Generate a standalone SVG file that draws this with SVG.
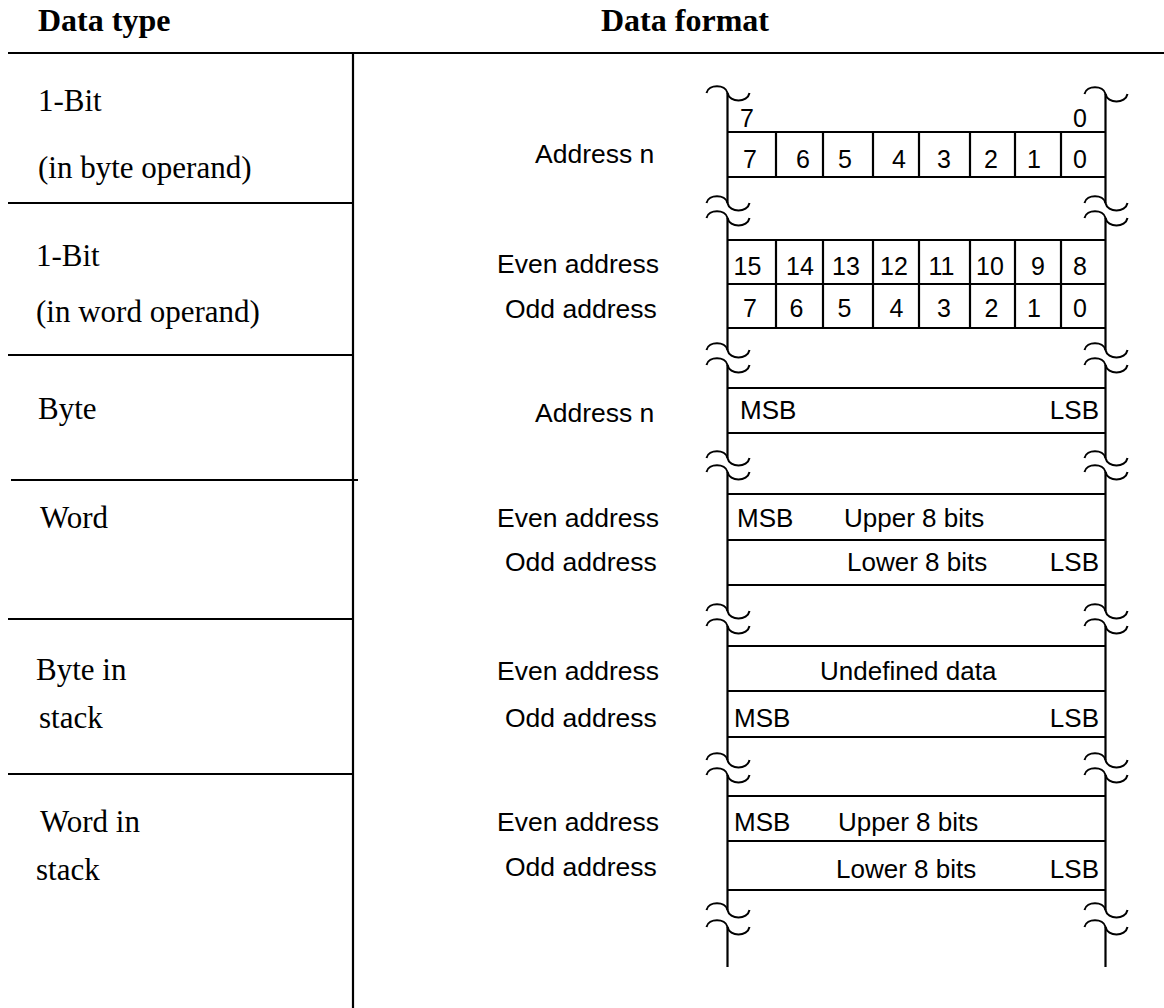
<svg xmlns="http://www.w3.org/2000/svg" xmlns:xlink="http://www.w3.org/1999/xlink" width="1164" height="1008" viewBox="0 0 1164 1008">
  <style>
    .rule { stroke: #000; stroke-width: 2.2; fill: none; }
    .cell { stroke: #000; stroke-width: 2.2; fill: none; }
    .brk { stroke: #000; stroke-width: 2; fill: none; }
    .hdr { font-family: "Liberation Serif", "Times New Roman", serif; font-weight: bold; font-size: 32px; fill: #000; }
    .typ { font-family: "Liberation Serif", "Times New Roman", serif; font-size: 31px; fill: #000; }
    .adr { font-family: "Liberation Sans", Arial, sans-serif; font-size: 26.5px; fill: #000; }
    .lbl { font-family: "Liberation Sans", Arial, sans-serif; font-size: 26px; fill: #000; }
    .dig { font-family: "Liberation Sans", Arial, sans-serif; font-size: 25px; fill: #000; text-anchor: middle; }
    .end { text-anchor: end; }
  </style>
  <defs>
    <!-- wavy break symbol, centred where it crosses the memory column edge -->
    <path id="tilde" d="M-21,0 C-19,-9 -2,-9 0,0 C2,10 20,10 22,0"/>
  </defs>

  <rect width="1164" height="1008" fill="#fff"/>

  <!-- table headings -->
  <g id="header">
    <text class="hdr" x="38" y="31">Data type</text>
    <text class="hdr" x="601" y="31">Data format</text>
  </g>

  <!-- table rules and memory column edges -->
  <g id="connectors">
    <line class="rule" x1="8" y1="53" x2="1164" y2="53"/>
    <line class="rule" x1="353" y1="53" x2="353" y2="1008"/>
    <line class="rule" x1="8" y1="203" x2="353" y2="203"/>
    <line class="rule" x1="8" y1="355" x2="353" y2="355"/>
    <line class="rule" x1="11" y1="480" x2="358" y2="480"/>
    <line class="rule" x1="8" y1="619" x2="353" y2="619"/>
    <line class="rule" x1="8" y1="774" x2="353" y2="774"/>

    <!-- left edge of memory column -->
    <path class="cell" d="M727.5,93 V203 M727.5,218 V350 M727.5,365 V458 M727.5,472 V611 M727.5,626 V760 M727.5,775 V910 M727.5,927 V967"/>
    <!-- right edge of memory column -->
    <path class="cell" d="M1105.5,94 V203 M1105.5,218 V350 M1105.5,365 V458 M1105.5,472 V611 M1105.5,626 V760 M1105.5,775 V910 M1105.5,927 V967"/>

    <!-- break marks -->
    <g class="brk">
      <use xlink:href="#tilde" x="727.5" y="93"/>
      <use xlink:href="#tilde" x="1105.5" y="94"/>

      <use xlink:href="#tilde" x="727.5" y="203"/>
      <use xlink:href="#tilde" x="727.5" y="218"/>
      <use xlink:href="#tilde" x="1105.5" y="203"/>
      <use xlink:href="#tilde" x="1105.5" y="218"/>

      <use xlink:href="#tilde" x="727.5" y="350"/>
      <use xlink:href="#tilde" x="727.5" y="365"/>
      <use xlink:href="#tilde" x="1105.5" y="350"/>
      <use xlink:href="#tilde" x="1105.5" y="365"/>

      <use xlink:href="#tilde" x="727.5" y="458"/>
      <use xlink:href="#tilde" x="727.5" y="472"/>
      <use xlink:href="#tilde" x="1105.5" y="458"/>
      <use xlink:href="#tilde" x="1105.5" y="472"/>

      <use xlink:href="#tilde" x="727.5" y="611"/>
      <use xlink:href="#tilde" x="727.5" y="626"/>
      <use xlink:href="#tilde" x="1105.5" y="611"/>
      <use xlink:href="#tilde" x="1105.5" y="626"/>

      <use xlink:href="#tilde" x="727.5" y="760"/>
      <use xlink:href="#tilde" x="727.5" y="775"/>
      <use xlink:href="#tilde" x="1105.5" y="760"/>
      <use xlink:href="#tilde" x="1105.5" y="775"/>

      <use xlink:href="#tilde" x="727.5" y="910"/>
      <use xlink:href="#tilde" x="727.5" y="927"/>
      <use xlink:href="#tilde" x="1105.5" y="910"/>
      <use xlink:href="#tilde" x="1105.5" y="927"/>
    </g>
  </g>

  <!-- 1-bit in byte operand -->
  <g id="bit-byte">
    <text class="typ" x="38" y="111">1-Bit</text>
    <text class="typ" x="38" y="178">(in byte operand)</text>
    <text class="adr" x="535" y="163">Address n</text>
    <text class="dig" x="747" y="127">7</text>
    <text class="dig" x="1080" y="127">0</text>
    <path class="cell" d="M727.5,132 H1105.5 M727.5,177 H1105.5 M776,132 V177 M823,132 V177 M873,132 V177 M919,132 V177 M970,132 V177 M1015,132 V177 M1061,132 V177"/>
    <g class="dig">
      <text x="750" y="168">7</text>
      <text x="803" y="168">6</text>
      <text x="845" y="168">5</text>
      <text x="899" y="168">4</text>
      <text x="944" y="168">3</text>
      <text x="991" y="168">2</text>
      <text x="1034" y="168">1</text>
      <text x="1080" y="168">0</text>
    </g>
  </g>

  <!-- 1-bit in word operand -->
  <g id="bit-word">
    <text class="typ" x="36" y="266">1-Bit</text>
    <text class="typ" x="36" y="322">(in word operand)</text>
    <text class="adr" x="497" y="273">Even address</text>
    <text class="adr" x="505" y="318">Odd address</text>
    <path class="cell" d="M727.5,240 H1105.5 M727.5,284 H1105.5 M727.5,328 H1105.5 M776,240 V328 M823,240 V328 M873,240 V328 M919,240 V328 M970,240 V328 M1015,240 V328 M1061,240 V328"/>
    <g class="dig">
      <text x="747.5" y="275">15</text>
      <text x="800" y="275">14</text>
      <text x="846" y="275">13</text>
      <text x="894" y="275">12</text>
      <text x="941.5" y="275">11</text>
      <text x="990" y="275">10</text>
      <text x="1038" y="275">9</text>
      <text x="1080" y="275">8</text>
      <text x="750" y="317">7</text>
      <text x="796.5" y="317">6</text>
      <text x="844.5" y="317">5</text>
      <text x="896.5" y="317">4</text>
      <text x="944" y="317">3</text>
      <text x="991.5" y="317">2</text>
      <text x="1034" y="317">1</text>
      <text x="1080" y="317">0</text>
    </g>
  </g>

  <!-- byte -->
  <g id="byte">
    <text class="typ" x="38" y="419">Byte</text>
    <text class="adr" x="535" y="422">Address n</text>
    <path class="cell" d="M727.5,388 H1105.5 M727.5,433 H1105.5"/>
    <text class="lbl" x="740" y="419">MSB</text>
    <text class="lbl end" x="1099" y="419">LSB</text>
  </g>

  <!-- word -->
  <g id="word">
    <text class="typ" x="40" y="528">Word</text>
    <text class="adr" x="497" y="527">Even address</text>
    <text class="adr" x="505" y="571">Odd address</text>
    <path class="cell" d="M727.5,494 H1105.5 M727.5,540 H1105.5 M727.5,585 H1105.5"/>
    <text class="lbl" x="737" y="527">MSB</text>
    <text class="lbl" x="844" y="527">Upper 8 bits</text>
    <text class="lbl" x="847" y="571">Lower 8 bits</text>
    <text class="lbl end" x="1099" y="571">LSB</text>
  </g>

  <!-- byte in stack -->
  <g id="byte-stack">
    <text class="typ" x="36" y="680">Byte in</text>
    <text class="typ" x="39" y="728">stack</text>
    <text class="adr" x="497" y="680">Even address</text>
    <text class="adr" x="505" y="727">Odd address</text>
    <path class="cell" d="M727.5,646 H1105.5 M727.5,691 H1105.5 M727.5,737 H1105.5"/>
    <text class="lbl" x="820" y="680">Undefined data</text>
    <text class="lbl" x="734" y="727">MSB</text>
    <text class="lbl end" x="1099" y="727">LSB</text>
  </g>

  <!-- word in stack -->
  <g id="word-stack">
    <text class="typ" x="40" y="832">Word in</text>
    <text class="typ" x="36" y="880">stack</text>
    <text class="adr" x="497" y="831">Even address</text>
    <text class="adr" x="505" y="876">Odd address</text>
    <path class="cell" d="M727.5,796 H1105.5 M727.5,841 H1105.5 M727.5,890 H1105.5"/>
    <text class="lbl" x="734" y="831">MSB</text>
    <text class="lbl" x="838" y="831">Upper 8 bits</text>
    <text class="lbl" x="836" y="878">Lower 8 bits</text>
    <text class="lbl end" x="1099" y="878">LSB</text>
  </g>
</svg>
